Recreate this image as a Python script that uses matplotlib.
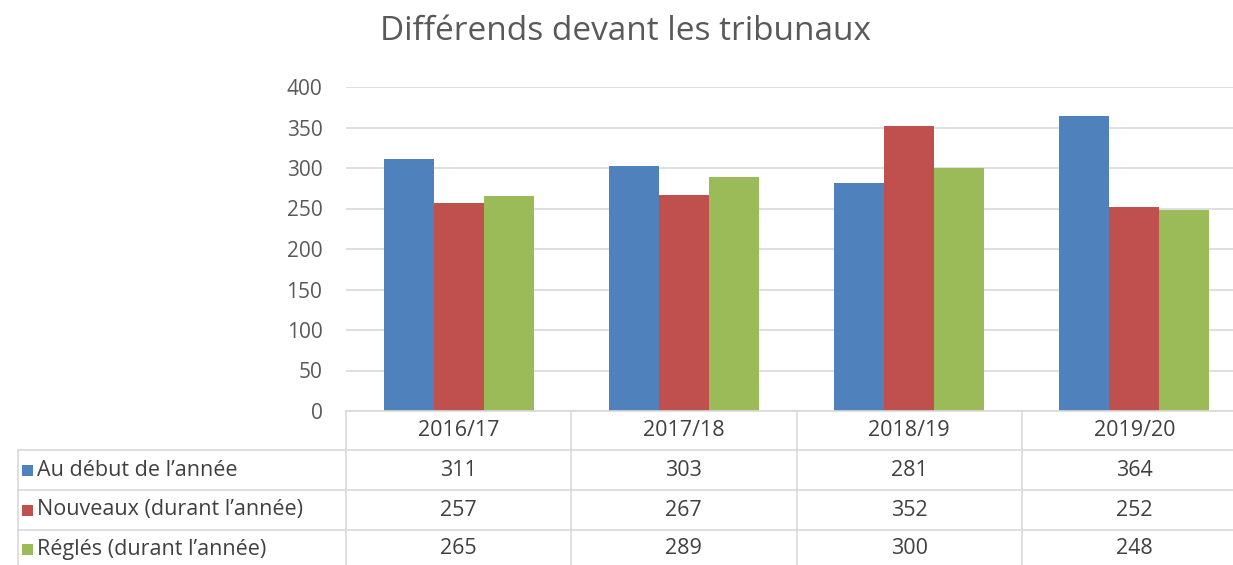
import matplotlib
matplotlib.use("Agg")
import matplotlib.pyplot as plt
import matplotlib.transforms as mtransforms
from matplotlib.lines import Line2D
from matplotlib.patches import Rectangle
import numpy as np

plt.rcParams['font.family'] = ['Open Sans', 'DejaVu Sans']

title = "Différends devant les tribunaux"
categories = ["2016/17", "2017/18", "2018/19", "2019/20"]
series_names = ["Au début de l\u2019année", "Nouveaux (durant l\u2019année)", "Réglés (durant l\u2019année)"]
au_debut = [311, 303, 281, 364]
nouveaux = [257, 267, 352, 252]
regles = [265, 289, 300, 248]
series_values = [au_debut, nouveaux, regles]
colors = ["#4F81BD", "#C0504D", "#9BBB59"]
yticks = [0, 50, 100, 150, 200, 250, 300, 350, 400]

W, H = 1233, 565
fig = plt.figure(figsize=(W / 100, H / 100), dpi=100)

def fx(px):
    return px / W

def fy(py):
    return 1 - py / H

left, right, top, bottom = 346, 1247, 87, 411
ax = fig.add_axes([fx(left), fy(bottom), fx(right) - fx(left), fy(top) - fy(bottom)])

x = np.arange(len(categories))
bw = 0.222
for i, (vals, c) in enumerate(zip(series_values, colors)):
    ax.bar(x + (i - 1) * bw, vals, width=bw, color=c, zorder=3)

ax.set_xlim(-0.5, len(categories) - 0.5)
ax.set_ylim(0, 400)
ax.set_yticks(yticks)
ax.set_yticklabels([str(t) for t in yticks], fontsize=15, color="#595959")
ax.tick_params(axis='y', length=0, pad=17)
ax.set_xticks([])
ax.grid(axis='y', color="#D9D9D9", linewidth=1.2, zorder=0)
for s in ax.spines.values():
    s.set_visible(False)

fig.text(0.507, fy(32), title, ha='center', va='center', fontsize=24, color="#595959")

# Data table
grid_c = "#D9D9D9"
txt_c = "#404040"
fs = 15.5
blend = mtransforms.blended_transform_factory(ax.transData, fig.transFigure)
xl = -0.5
xr = len(categories) - 0.5
table_left_px = 18
row_lines = [411, 450, 490, 530]
fig.add_artist(Line2D([xl, xr], [fy(411), fy(411)], transform=blend, color=grid_c, lw=1.2))
for yl in row_lines[1:]:
    fig.add_artist(Line2D([fx(table_left_px), 1.02], [fy(yl), fy(yl)], transform=fig.transFigure, color=grid_c, lw=1.2))
for k in range(len(categories) + 1):
    xv = -0.5 + k
    fig.add_artist(Line2D([xv, xv], [fy(411), fy(575)], transform=blend, color=grid_c, lw=1.2))
fig.add_artist(Line2D([fx(table_left_px)] * 2, [fy(450), fy(575)], transform=fig.transFigure, color=grid_c, lw=1.2))

row_centers = [431, 470, 510, 549]
for j, cat in enumerate(categories):
    fig.text(x[j], fy(row_centers[0]), cat, transform=blend, ha='center', va='center',
             fontsize=fs, color=txt_c)
for i, (name, vals, c) in enumerate(zip(series_names, series_values, colors)):
    yc = fy(row_centers[i + 1])
    fig.add_artist(Rectangle((fx(22), yc - 5.5 / H), 11 / W, 11 / H, transform=fig.transFigure,
                             facecolor=c, edgecolor='none'))
    fig.text(fx(37), yc, name, ha='left', va='center', fontsize=fs, color=txt_c)
    for j, v in enumerate(vals):
        fig.text(x[j], yc, str(v), transform=blend, ha='center', va='center',
                 fontsize=fs, color=txt_c)

fig.savefig("out.png", dpi=100, facecolor="white")
